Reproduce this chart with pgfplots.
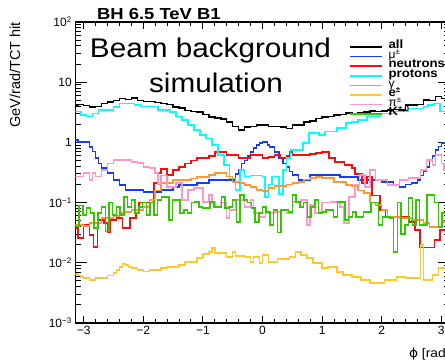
\documentclass[border=0pt]{standalone}
\usepackage{fontspec}
\setmainfont{Liberation Sans}
\newfontfamily\dejavu{DejaVu Sans}
\usepackage{pgfplots}
\pgfplotsset{compat=1.18}
\definecolor{cAll}{rgb}{0,0,0}
\definecolor{cMu}{RGB}{20,60,255}
\definecolor{cN}{RGB}{255,10,10}
\definecolor{cP}{RGB}{0,255,255}
\definecolor{cG}{RGB}{255,150,50}
\definecolor{cE}{RGB}{255,200,40}
\definecolor{cPi}{RGB}{255,150,200}
\definecolor{cK}{RGB}{50,200,0}
\newcommand{\wide}[1]{\scalebox{1.1}[1]{#1}}
\begin{document}
\begin{tikzpicture}
\begin{axis}[
 at={(75.3pt,39pt)}, anchor=south west,
 scale only axis, width=374.4pt, height=301pt,
 xmin=-3.14159, xmax=3.14159, ymode=log, ymin=1e-3, ymax=100,
 xtick={-3,-2,-1,0,1,2,3}, xticklabels={−3,−2,−1,0,1,2,3},
 minor x tick num=4,
 ytick={0.001,0.01,0.1,1,10,100},
 yticklabels={10\textsuperscript{−3},10\textsuperscript{−2},10\textsuperscript{−1},1,10,10\textsuperscript{2}},
 tick pos=both, tick align=inside,
 major tick length=12pt, minor tick length=6pt,
 major x tick style={/pgfplots/major tick length=7.5pt},
 minor x tick style={/pgfplots/minor tick length=4pt},
 axis line style={line width=1.2pt},
 every tick/.style={line width=1pt, black},
 tick label style={font=\fontsize{12}{12}\selectfont},
 const plot,
 every axis plot/.append style={line width=1.5pt},
 legend style={at={(0.7311,0.933)}, anchor=north west, draw=none, fill=none,
   inner sep=0pt, outer sep=0pt, row sep=0pt, column sep=0pt,
   font=\fontsize{12}{12}\selectfont\bfseries,
   nodes={inner sep=0pt, text height=6.6pt, text depth=3pt}},
 legend cell align=left,
 legend image code/.code={\draw[#1, line width=1.6pt] (0pt,0pt) -- (32pt,0pt); \path (38pt,0pt);},
]
\addplot[cAll] coordinates {(-3.1416,4.2)(-3.1,4.3)(-3.0,4.1)(-2.9,3.9)(-2.8,3.95)(-2.7,4.4)(-2.6,4.7)(-2.5,4.95)(-2.4,5.4)(-2.3,5.2)(-2.2,5.45)(-2.1,5.0)(-2.0,4.75)(-1.9,4.8)(-1.8,4.6)(-1.7,4.45)(-1.6,4.3)(-1.5,3.9)(-1.4,3.7)(-1.3,3.4)(-1.2,3.25)(-1.1,3.2)(-1.0,2.9)(-0.9,2.65)(-0.8,2.55)(-0.7,2.45)(-0.6,2.2)(-0.5,1.85)(-0.4,1.62)(-0.3,1.8)(-0.2,1.85)(-0.1,1.95)(0.0,1.95)(0.1,1.82)(0.2,1.85)(0.3,1.8)(0.4,1.7)(0.5,1.95)(0.6,1.95)(0.7,2.2)(0.8,2.25)(0.9,2.5)(1.0,2.65)(1.1,2.7)(1.2,2.85)(1.3,2.9)(1.4,3.05)(1.5,3.0)(1.6,3.1)(1.7,3.2)(1.8,3.3)(1.9,3.25)(2.0,3.35)(2.1,3.45)(2.2,3.5)(2.3,3.45)(2.4,4.15)(2.5,4.2)(2.6,4.25)(2.7,5.05)(2.8,5.0)(2.9,5.75)(3.0,5.4)(3.1,4.9)(3.1416,4.9)};
\addlegendentry{\wide{all}}
\addplot[cMu] coordinates {(-3.1416,1.10)(-3.1,1.02)(-2.9,0.84)(-2.85,0.7)(-2.8,0.55)(-2.75,0.45)(-2.7,0.376)(-2.6,0.31)(-2.5,0.237)(-2.4,0.196)(-2.3,0.162)(-2.0,0.15)(-1.7,0.162)(-1.5,0.182)(-1.4,0.196)(-1.1,0.212)(-0.9,0.237)(-0.45,0.3)(-0.4,0.348)(-0.35,0.45)(-0.3,0.5)(-0.25,0.6)(-0.2,0.69)(-0.15,0.8)(-0.1,0.9)(-0.05,0.98)(0.0,1.02)(0.08,0.9)(0.12,0.84)(0.2,0.69)(0.28,0.55)(0.34,0.45)(0.4,0.39)(0.45,0.33)(0.5,0.29)(0.6,0.237)(0.8,0.287)(1.3,0.266)(1.6,0.237)(2.0,0.22)(2.2,0.2)(2.3,0.182)(2.4,0.2)(2.5,0.212)(2.6,0.237)(2.65,0.28)(2.7,0.33)(2.75,0.39)(2.8,0.5)(2.85,0.6)(2.9,0.75)(2.95,0.85)(3.0,0.98)(3.1,1.05)(3.1416,1.05)};
\addlegendentry{\mdseries μ\textsuperscript{±}}
\addplot[cN] coordinates {(-3.1416,0.038)(-3.1,0.026)(-3.0,0.0425)(-2.9,0.029)(-2.84,0.0183)(-2.77,0.0514)(-2.66,0.0458)(-2.6,0.0325)(-2.55,0.0514)(-2.45,0.0555)(-2.35,0.0379)(-2.22,0.0555)(-2.12,0.0671)(-2.07,0.1)(-1.82,0.212)(-1.75,0.31)(-1.7,0.36)(-1.6,0.29)(-1.5,0.35)(-1.4,0.39)(-1.3,0.45)(-1.2,0.5)(-1.1,0.55)(-0.9,0.6)(-0.8,0.69)(-0.6,0.62)(-0.4,0.55)(-0.2,0.62)(0.0,0.55)(0.1,0.57)(0.2,0.62)(0.3,0.55)(0.4,0.6)(0.45,0.69)(0.5,0.62)(0.8,0.64)(0.9,0.67)(1.0,0.69)(1.12,0.55)(1.22,0.47)(1.38,0.42)(1.5,0.376)(1.55,0.3)(1.67,0.21)(1.75,0.27)(1.84,0.13)(1.97,0.075)(2.06,0.058)(2.46,0.048)(2.56,0.035)(2.64,0.018)(2.89,0.024)(2.98,0.035)(3.1416,0.035)};
\addlegendentry{\wide{neutrons}}
\addplot[cP] coordinates {(-3.1416,3.24)(-3.05,2.85)(-2.95,2.67)(-2.85,3.04)(-2.75,3.45)(-2.5,3.9)(-2.4,4.47)(-2.15,4.2)(-2.05,3.92)(-1.75,3.45)(-1.55,3.2)(-1.45,2.67)(-1.35,2.36)(-1.25,1.95)(-1.15,1.6)(-1.05,1.33)(-0.95,1.17)(-0.85,0.91)(-0.75,0.62)(-0.65,0.42)(-0.55,0.25)(-0.45,0.162)(-0.38,0.35)(-0.3,0.27)(-0.2,0.28)(0.0,0.27)(0.04,0.125)(0.1,0.2)(0.16,0.27)(0.28,0.14)(0.34,0.35)(0.4,0.55)(0.47,0.75)(0.68,0.98)(0.78,1.43)(0.95,1.33)(1.05,1.51)(1.25,1.73)(1.4,2.1)(1.5,2.2)(1.6,2.36)(1.75,2.67)(1.97,3.04)(2.2,3.24)(2.45,3.68)(2.7,3.92)(2.78,4.2)(2.88,4.47)(2.98,3.24)(3.1416,3.24)};
\addlegendentry{\wide{protons}}
\addplot[cG] coordinates {(-3.1416,0.0425)(-3.0,0.041)(-2.9,0.0458)(-2.7,0.0555)(-2.5,0.06)(-2.4,0.0671)(-2.3,0.0698)(-2.2,0.0754)(-2.0,0.0845)(-1.9,0.11)(-1.8,0.16)(-1.7,0.212)(-1.5,0.237)(-1.2,0.25)(-1.1,0.266)(-0.9,0.29)(-0.8,0.31)(-0.6,0.27)(-0.5,0.22)(-0.4,0.21)(-0.3,0.196)(-0.2,0.182)(-0.1,0.162)(0.0,0.156)(0.1,0.175)(0.2,0.189)(0.4,0.2)(0.5,0.212)(0.6,0.22)(0.7,0.24)(0.8,0.256)(0.9,0.266)(1.0,0.256)(1.2,0.22)(1.4,0.196)(1.5,0.189)(1.6,0.16)(1.7,0.144)(1.8,0.1)(1.9,0.0912)(2.0,0.0754)(2.1,0.0577)(2.3,0.0555)(2.5,0.0514)(2.7,0.0458)(2.8,0.0393)(3.0,0.0476)(3.1,0.05)(3.1416,0.05)};
\addlegendentry{\mdseries γ}
\addplot[cE] coordinates {(-3.1416,0.0065)(-3.1,0.0062)(-3.05,0.0058)(-3.0,0.0056)(-2.9,0.0052)(-2.8,0.0056)(-2.6,0.0062)(-2.5,0.0068)(-2.45,0.0076)(-2.4,0.0085)(-2.35,0.0095)(-2.3,0.0092)(-2.25,0.0085)(-2.2,0.0082)(-2.1,0.0076)(-2.0,0.0072)(-1.9,0.0076)(-1.7,0.0082)(-1.6,0.0085)(-1.4,0.0092)(-1.3,0.0103)(-1.1,0.012)(-1.0,0.014)(-0.9,0.0151)(-0.85,0.0176)(-0.8,0.0146)(-0.6,0.0125)(-0.5,0.0151)(-0.45,0.013)(-0.3,0.0125)(-0.2,0.0103)(-0.15,0.0125)(-0.05,0.01)(0.0,0.0135)(0.1,0.0103)(0.25,0.0116)(0.45,0.0125)(0.55,0.0151)(0.65,0.0135)(0.75,0.012)(0.85,0.01)(1.0,0.0082)(1.1,0.0085)(1.25,0.007)(1.35,0.0063)(1.5,0.0058)(1.65,0.0052)(1.8,0.0046)(2.05,0.0052)(2.25,0.0058)(2.4,0.0056)(2.65,0.0198)(2.7,0.0052)(2.85,0.0063)(2.95,0.0082)(3.1416,0.0082)};
\addlegendentry{\wide{e}\textsuperscript{±}}
\addplot[cPi] coordinates {(-3.1416,0.27)(-3.0,0.31)(-2.9,0.237)(-2.85,0.31)(-2.8,0.27)(-2.7,0.35)(-2.6,0.45)(-2.5,0.51)(-2.2,0.47)(-2.1,0.455)(-2.0,0.39)(-1.9,0.376)(-1.8,0.31)(-1.75,0.2)(-1.7,0.28)(-1.6,0.182)(-1.45,0.21)(-1.35,0.11)(-1.25,0.162)(-1.15,0.175)(-1.0,0.102)(-0.9,0.134)(-0.85,0.102)(-0.8,0.0845)(-0.7,0.1)(-0.6,0.0555)(-0.55,0.0754)(-0.45,0.11)(-0.3,0.0845)(-0.2,0.11)(-0.15,0.0671)(-0.05,0.0577)(0.05,0.0671)(0.2,0.07)(0.3,0.0754)(0.4,0.0671)(0.5,0.102)(0.65,0.11)(0.75,0.0425)(0.8,0.0912)(0.88,0.0671)(0.95,0.07)(1.0,0.1)(1.15,0.102)(1.3,0.0845)(1.37,0.0458)(1.45,0.124)(1.55,0.196)(1.63,0.287)(1.72,0.182)(1.8,0.348)(1.9,0.237)(2.1,0.196)(2.3,0.237)(2.45,0.256)(2.65,0.348)(2.75,0.51)(2.85,0.42)(2.9,0.618)(3.0,0.45)(3.05,0.35)(3.1416,0.35)};
\addlegendentry{\mdseries π\textsuperscript{±}}
\addplot[cK] coordinates {(-3.1416,0.04)(-3.0788,0.09)(-3.0159,0.062)(-2.9531,0.081)(-2.8903,0.067)(-2.8274,0.038)(-2.7646,0.067)(-2.7018,0.085)(-2.6389,0.033)(-2.5761,0.1)(-2.5133,0.062)(-2.4504,0.085)(-2.3876,0.062)(-2.3248,0.124)(-2.2619,0.085)(-2.1991,0.11)(-2.1363,0.067)(-2.0735,0.085)(-2.0106,0.1)(-1.9478,0.062)(-1.8850,0.1)(-1.8221,0.062)(-1.7593,0.11)(-1.6965,0.124)(-1.6336,0.124)(-1.5708,0.051)(-1.5080,0.11)(-1.4451,0.11)(-1.3823,0.067)(-1.3195,0.075)(-1.2566,0.067)(-1.1938,0.1)(-1.1310,0.102)(-1.0681,0.085)(-1.0053,0.081)(-0.9425,0.081)(-0.8796,0.102)(-0.8168,0.085)(-0.7540,0.085)(-0.6912,0.124)(-0.6283,0.081)(-0.5655,0.085)(-0.5027,0.11)(-0.4398,0.048)(-0.3770,0.134)(-0.3142,0.11)(-0.2513,0.1)(-0.1885,0.081)(-0.1257,0.048)(-0.0628,0.067)(0,0.085)(0.0628,0.07)(0.1257,0.0425)(0.1885,0.075)(0.2513,0.032)(0.3142,0.075)(0.3770,0.075)(0.4398,0.07)(0.5027,0.134)(0.5655,0.102)(0.6283,0.085)(0.6912,0.1)(0.7540,0.058)(0.8168,0.085)(0.8796,0.11)(0.9425,0.067)(1.0053,0.07)(1.0681,0.075)(1.1310,0.075)(1.1938,0.058)(1.2566,0.102)(1.3195,0.102)(1.3823,0.051)(1.4451,0.058)(1.5080,0.07)(1.5708,0.058)(1.6336,0.058)(1.6965,0.07)(1.7593,0.07)(1.8221,0.1)(1.8850,0.1)(1.9478,0.0425)(2.0106,0.058)(2.0735,0.058)(2.1363,0.056)(2.1991,0.015)(2.2619,0.1)(2.3248,0.03)(2.3876,0.0425)(2.4504,0.119)(2.5133,0.0425)(2.5761,0.11)(2.6389,0.0425)(2.7018,0.0425)(2.7646,0.134)(2.8274,0.134)(2.8903,0.1)(2.9531,0.039)(3.0159,0.067)(3.0788,0.067)(3.1416,0.067)};
\addlegendentry{\wide{K}\textsuperscript{±,0}}
\end{axis}
\node[anchor=base west, font=\fontsize{16}{16}\selectfont\bfseries, inner sep=0pt] at (97pt,342pt) {\scalebox{1.15}[1]{BH 6.5 TeV B1}};
\node[anchor=base, font=\fontsize{27}{27}\selectfont, inner sep=0pt] at (210.5pt,304pt) {\scalebox{1.1}[1]{Beam background}};
\node[anchor=base, font=\fontsize{27}{27}\selectfont, inner sep=0pt] at (216pt,269pt) {\scalebox{1.1}[1]{simulation}};
\node[rotate=90, anchor=base east, font=\fontsize{14.5}{14.5}\selectfont, inner sep=0pt] at (20pt,340pt) {GeV/rad/TCT hit};
\node[anchor=base east, font=\fontsize{12.5}{12.5}\selectfont, inner sep=0pt] at (449.7pt,5pt) {\scalebox{1.1}[1]{{\dejavu ϕ} [rad]}};
\pgfresetboundingbox
\path[use as bounding box] (0pt,0pt) rectangle (445pt,362pt);
\end{tikzpicture}
\end{document}
